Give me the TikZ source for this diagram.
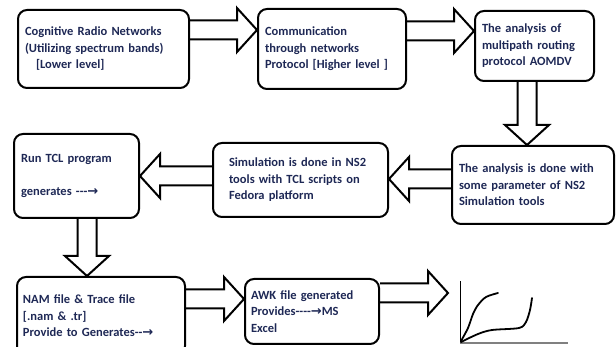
\documentclass[tikz,border=0pt]{standalone}
\usepackage{fontspec}
\setmainfont{Carlito}
\newfontfamily\arrowfont{DejaVu Sans}
\usepackage{tikz}
\usetikzlibrary{calc,positioning}

\definecolor{boxtext}{RGB}{30,40,85}
\newcommand{\rarr}{{\arrowfont\bfseries\fontsize{13}{13}\selectfont →}}
\newcommand{\blockarrow}[2]{%
	\path (#1) coordinate (ba-s) (#2) coordinate (ba-e);
	\path ($(ba-e)!20pt!(ba-s)$) coordinate (ba-b);
	\draw[flow] ($(ba-s)!9.5pt!90:(ba-e)$) -- ($(ba-b)!9.5pt!90:(ba-e)$)
		-- ($(ba-b)!22pt!90:(ba-e)$) -- (ba-e)
		-- ($(ba-b)!22pt!-90:(ba-e)$) -- ($(ba-b)!9.5pt!-90:(ba-e)$)
		-- ($(ba-s)!9.5pt!-90:(ba-e)$);}

\begin{document}
\begin{tikzpicture}[x=1pt, y=-1pt,
	stage/.style={draw, line width=2pt, rounded corners=9pt, anchor=north west, align=left,
		inner xsep=7pt, inner ysep=0pt, text=boxtext,
		font=\bfseries\fontsize{12.5}{16.5}\selectfont},
	flow/.style={line width=2pt},
	curve/.style={line width=1.8pt, line cap=round, line join=round}]
	\useasboundingbox (0,0) rectangle (616,347);
	\clip (0,0) rectangle (616,347);
	\node[stage, minimum width=171pt, minimum height=78pt, text width=157pt] (crn) at (17,9)
		{Cognitive Radio Networks\\(Utilizing spectrum bands)\\\hspace*{11pt}[Lower level]};
	\node[stage, minimum width=148pt, minimum height=80pt, text width=134pt] (comm) at (257,8)
		{Communication\\through networks\\Protocol [Higher level ]};
	\node[stage, minimum width=119pt, minimum height=70pt, text width=105pt] (aomdv) at (474,10)
		{The analysis of\\multipath routing\\protocol AOMDV};
	\node[stage, minimum width=162pt, minimum height=78pt, text width=148pt] (param) at (451,145)
		{The analysis is done with\\some parameter of NS2\\Simulation tools};
	\node[stage, minimum width=175pt, minimum height=74pt, text width=143pt, inner xsep=16pt] (sim) at (212,142)
		{Simulation is done in NS2\\tools with TCL scripts on\\Fedora platform};
	\node[stage, minimum width=125pt, minimum height=84pt, text width=111pt] (tcl) at (13,133)
		{Run TCL program\\[16.5pt]generates -{}-{}-\rarr};
	\node[stage, minimum width=168pt, minimum height=78pt, text width=156pt, inner xsep=6pt] (nam) at (16,276)
		{NAM file \& Trace file\\{}[.nam \& .tr]\\Provide to Generates-{}-\rarr};
	\node[stage, minimum width=134pt, minimum height=65pt, text width=122pt, inner xsep=6pt] (awk) at (244,278)
		{AWK file generated\\Provides-{}-{}-{}-\rarr MS\\Excel};
	\blockarrow{crn.east |- 0,30}{comm.west |- 0,30}
	\blockarrow{comm.east |- 0,31}{aomdv.west |- 0,31}
	\blockarrow{aomdv.south -| 527,0}{param.north -| 527,0}
	\blockarrow{param.west |- 0,179}{sim.east |- 0,179}
	\blockarrow{sim.west |- 0,176}{tcl.east |- 0,176}
	\blockarrow{tcl.south -| 87,0}{nam.north -| 87,0}
	\blockarrow{nam.east |- 0,299}{awk.west |- 0,299}
	\coordinate (go) at (460,343);
	\coordinate (gtip) at (448,293);
	\blockarrow{awk.east |- gtip}{gtip}
	\draw[line width=1pt] (go) -- ++(0,-62);
	\draw[line width=2pt, gray] (go) -- ++(108,0);
	\draw[curve] plot[smooth] coordinates {(461,341) (468,328) (473,314) (478,305) (486,297) (498,293)};
	\draw[curve] plot[smooth] coordinates {(461,342) (478,334) (492,330) (519,328) (526,322) (530,310) (532,298)};
\end{tikzpicture}
\end{document}
